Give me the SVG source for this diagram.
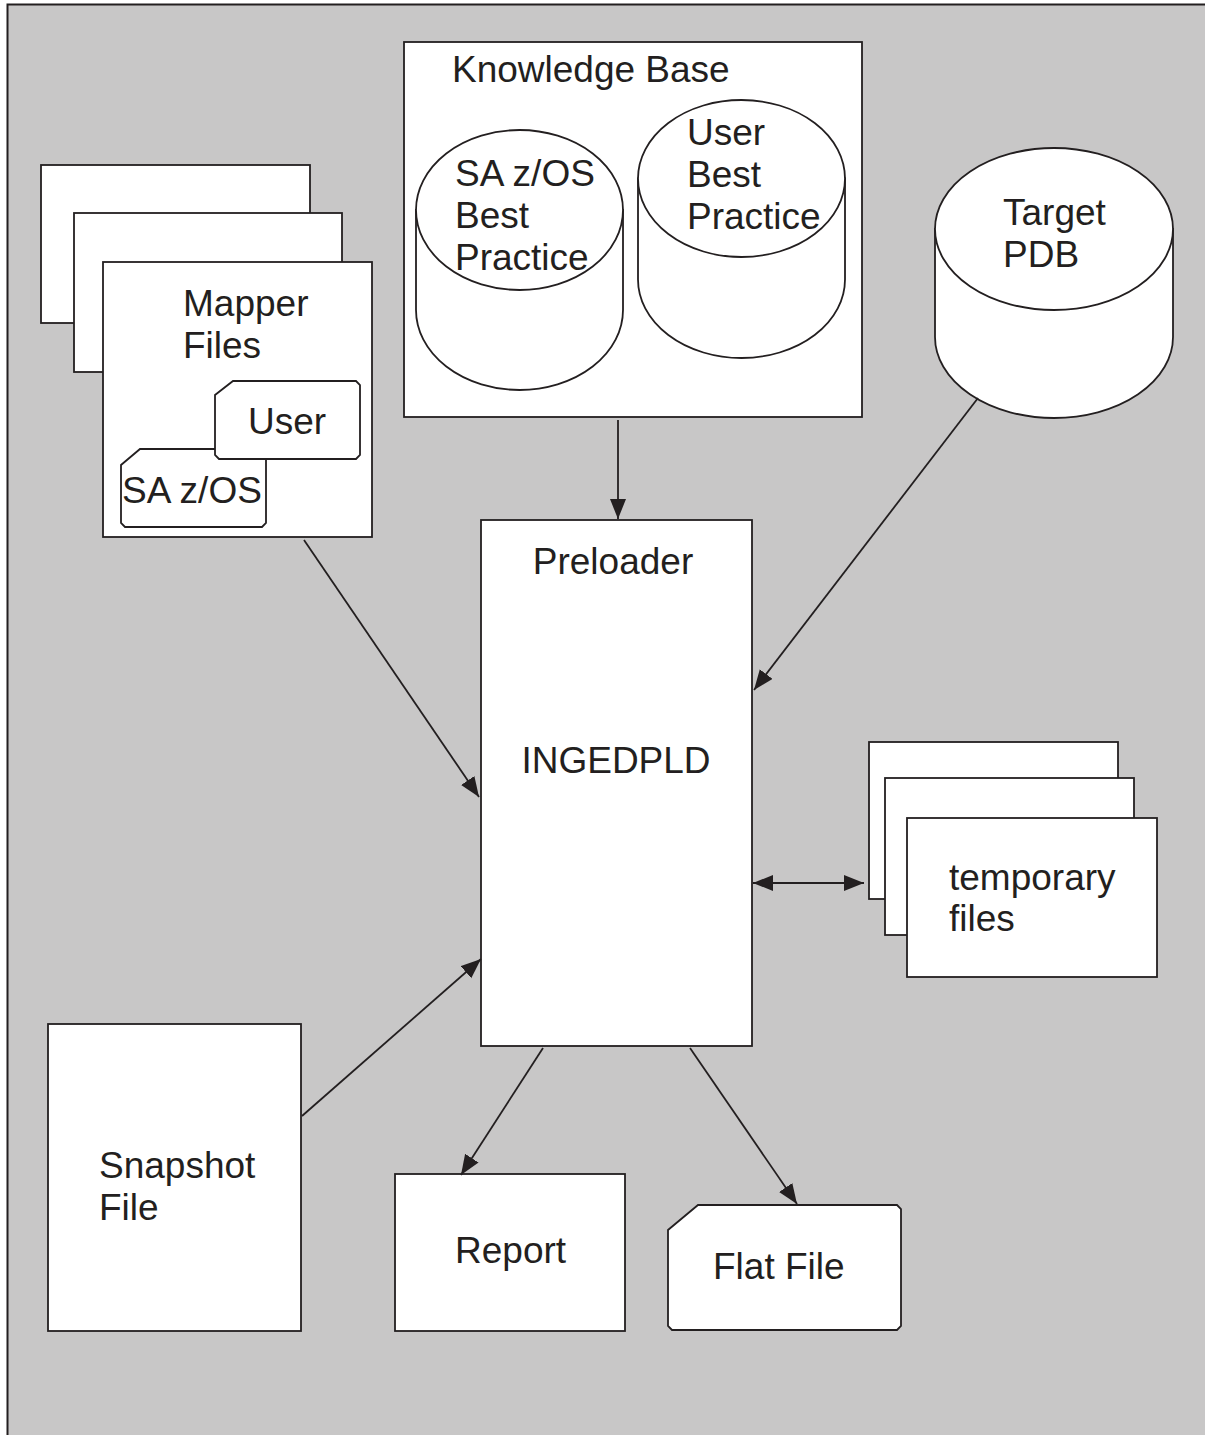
<svg xmlns="http://www.w3.org/2000/svg" width="1205" height="1435" viewBox="0 0 1205 1435">
<style>
.s{fill:#fff;stroke:#231f20;stroke-width:1.8}
.t{font-family:"Liberation Sans",Arial,sans-serif;font-size:37px;fill:#231f20}
.c{fill:none;stroke:#231f20;stroke-width:1.8}
</style>
<defs>
<marker id="ah" markerUnits="userSpaceOnUse" markerWidth="22" markerHeight="18" refX="20" refY="8" orient="auto-start-reverse">
<path d="M0,0 L20,8 L0,16 Z" fill="#231f20"/>
</marker>
</defs>
<rect x="0" y="0" width="1205" height="1435" fill="#fff"/>
<rect x="7" y="4" width="1198" height="1431" fill="#c8c7c7"/>
<path d="M7.5,1435 L7.5,4.5 L1205,4.5" fill="none" stroke="#231f20" stroke-width="2"/>

<g id="mapper-files">
<rect class="s" x="41" y="165" width="269" height="158"/>
<rect class="s" x="74" y="213" width="268" height="159"/>
<rect class="s" x="103" y="262" width="269" height="275"/>
<text class="t" x="183" y="316">Mapper</text>
<text class="t" x="183" y="358">Files</text>
<path class="s" d="M140,449 L262,449 L266,453 L266,523 L262,527 L125,527 L121,523 L121,465 Z"/>
<path class="s" d="M233,381 L356,381 L360,385 L360,455 L356,459 L219,459 L215,455 L215,395 Z"/>
<text class="t" x="248" y="434">User</text>
<text class="t" x="122" y="503">SA z/OS</text>
</g>

<g id="knowledge-base">
<rect class="s" x="404" y="42" width="458" height="375"/>
<text class="t" x="452" y="82">Knowledge Base</text>
<path class="s" d="M416,210 L416,310 A103.5,80 0 0 0 623,310 L623,210 Z"/>
<ellipse class="s" cx="519.5" cy="210" rx="103.5" ry="80"/>
<text class="t" x="455" y="186">SA z/OS</text>
<text class="t" x="455" y="228">Best</text>
<text class="t" x="455" y="270">Practice</text>
<path class="s" d="M638,178.5 L638,279.5 A103.5,78.5 0 0 0 845,279.5 L845,178.5 Z"/>
<ellipse class="s" cx="741.5" cy="178.5" rx="103.5" ry="78.5"/>
<text class="t" x="687" y="145">User</text>
<text class="t" x="687" y="187">Best</text>
<text class="t" x="687" y="229">Practice</text>
</g>

<g id="target-pdb">
<path class="s" d="M935,229 L935,337 A119,81 0 0 0 1173,337 L1173,229 Z"/>
<ellipse class="s" cx="1054" cy="229" rx="119" ry="81"/>
<text class="t" x="1003" y="225">Target</text>
<text class="t" x="1003" y="267">PDB</text>
</g>

<g id="preloader">
<rect class="s" x="481" y="520" width="271" height="526"/>
<text class="t" x="613" y="574" text-anchor="middle">Preloader</text>
<text class="t" x="616" y="773" text-anchor="middle">INGEDPLD</text>
</g>

<g id="temporary-files">
<rect class="s" x="869" y="742" width="249" height="157"/>
<rect class="s" x="885" y="778" width="249" height="157"/>
<rect class="s" x="907" y="818" width="250" height="159"/>
<text class="t" x="949" y="890">temporary</text>
<text class="t" x="949" y="931">files</text>
</g>

<g id="snapshot-file">
<rect class="s" x="48" y="1024" width="253" height="307"/>
<text class="t" x="99" y="1178">Snapshot</text>
<text class="t" x="99" y="1220">File</text>
</g>

<g id="report">
<rect class="s" x="395" y="1174" width="230" height="157"/>
<text class="t" x="455" y="1263">Report</text>
</g>

<g id="flat-file">
<path class="s" d="M698,1205 L897,1205 L901,1209 L901,1326 L897,1330 L672,1330 L668,1326 L668,1230 Z"/>
<text class="t" x="713" y="1279">Flat File</text>
</g>

<g id="connectors">
<line class="c" x1="618" y1="420" x2="618" y2="519" marker-end="url(#ah)"/>
<line class="c" x1="304" y1="540" x2="479" y2="797" marker-end="url(#ah)"/>
<line class="c" x1="978" y1="398" x2="754" y2="690" marker-end="url(#ah)"/>
<line class="c" x1="302" y1="1116" x2="481" y2="959" marker-end="url(#ah)"/>
<line class="c" x1="543" y1="1048" x2="461" y2="1175" marker-end="url(#ah)"/>
<line class="c" x1="690" y1="1048" x2="797" y2="1204" marker-end="url(#ah)"/>
<line class="c" x1="753" y1="883" x2="864" y2="883" marker-start="url(#ah)" marker-end="url(#ah)"/>
</g>
</svg>
